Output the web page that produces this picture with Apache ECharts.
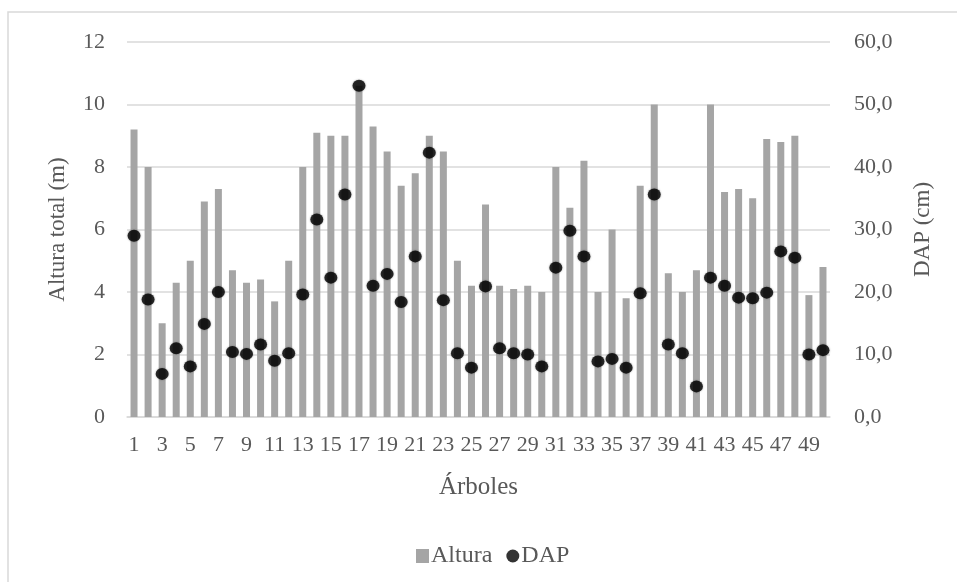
<!DOCTYPE html>
<html>
<head>
<meta charset="utf-8">
<script src="https://cdn.jsdelivr.net/npm/echarts@6/dist/echarts.min.js"></script>
<style>
  html, body { margin: 0; padding: 0; background: #fff; }
  #chart { width: 957px; height: 582px; }
</style>
</head>
<body>
<div id="chart"></div>
<script>
// Tree numbers 1..50
const arboles = ['1','2','3','4','5','6','7','8','9','10','11','12','13','14','15','16','17','18','19','20',
  '21','22','23','24','25','26','27','28','29','30','31','32','33','34','35','36','37','38','39','40',
  '41','42','43','44','45','46','47','48','49','50'];

// Total height (m)
const altura = [9.2, 8.0, 3.0, 4.3, 5.0, 6.9, 7.3, 4.7, 4.3, 4.4,
  3.7, 5.0, 8.0, 9.1, 9.0, 9.0, 10.6, 9.3, 8.5, 7.4,
  7.8, 9.0, 8.5, 5.0, 4.2, 6.8, 4.2, 4.1, 4.2, 4.0,
  8.0, 6.7, 8.2, 4.0, 6.0, 3.8, 7.4, 10.0, 4.6, 4.0,
  4.7, 10.0, 7.2, 7.3, 7.0, 8.9, 8.8, 9.0, 3.9, 4.8];

// Diameter at breast height (cm)
const dap = [29.0, 18.8, 6.9, 11.0, 8.1, 14.9, 20.0, 10.4, 10.1, 11.6,
  9.0, 10.2, 19.6, 31.6, 22.3, 35.6, 53.0, 21.0, 22.9, 18.4,
  25.7, 42.3, 18.7, 10.2, 7.9, 20.9, 11.0, 10.2, 10.0, 8.1,
  23.9, 29.8, 25.7, 8.9, 9.3, 7.9, 19.8, 35.6, 11.6, 10.2,
  4.9, 22.3, 21.0, 19.1, 19.0, 19.9, 26.5, 25.5, 10.0, 10.7];

const textColor = '#595959';
const gridColor = '#D9D9D9';
const fontFamily = '"Liberation Serif", "Times New Roman", serif';

const chart = echarts.init(document.getElementById('chart'), null, { renderer: 'canvas' });

chart.setOption({
  backgroundColor: '#fff',
  animation: false,
  textStyle: { fontFamily: fontFamily, color: textColor },
  graphic: [{
    type: 'rect',
    shape: { x: 8, y: 12, width: 960, height: 580 },
    style: { fill: 'none', stroke: gridColor, lineWidth: 1.5 },
    silent: true
  }],
  grid: { left: 127, right: 127, top: 42, bottom: 165, containLabel: false },
  legend: {
    data: [
      { name: 'Altura', icon: 'rect' },
      { name: 'DAP', icon: 'circle' }
    ],
    left: 411,
    top: 539,
    itemGap: 14,
    itemWidth: 13,
    itemHeight: 14,
    textStyle: { fontFamily: fontFamily, fontSize: 24, color: textColor, padding: [0, 0, 0, -3] }
  },
  xAxis: {
    type: 'category',
    data: arboles,
    boundaryGap: true,
    name: 'Árboles',
    nameLocation: 'middle',
    nameGap: 58,
    nameTextStyle: { fontFamily: fontFamily, fontSize: 25, color: textColor },
    axisLine: { show: true, lineStyle: { color: gridColor, width: 1.5 } },
    axisTick: { show: false },
    axisLabel: { interval: 1, margin: 17, fontFamily: fontFamily, fontSize: 22, color: textColor }
  },
  yAxis: [{
    type: 'value',
    min: 0, max: 12, interval: 2,
    name: 'Altura total (m)',
    nameLocation: 'middle',
    nameGap: 58,
    nameTextStyle: { fontFamily: fontFamily, fontSize: 23, color: textColor },
    axisLine: { show: false },
    axisTick: { show: false },
    axisLabel: { margin: 22, fontFamily: fontFamily, fontSize: 22, color: textColor },
    splitLine: { show: true, lineStyle: { color: gridColor, width: 1.5 } }
  }, {
    type: 'value',
    min: 0, max: 60, interval: 10,
    name: 'DAP (cm)',
    nameLocation: 'middle',
    nameGap: 81,
    nameRotate: 90,
    nameTextStyle: { fontFamily: fontFamily, fontSize: 23, color: textColor },
    axisLine: { show: false },
    axisTick: { show: false },
    axisLabel: {
      margin: 24, fontFamily: fontFamily, fontSize: 22, color: textColor,
      formatter: v => v.toFixed(1).replace('.', ',')
    },
    splitLine: { show: false }
  }],
  series: [{
    name: 'Altura',
    type: 'bar',
    data: altura,
    yAxisIndex: 0,
    barWidth: 7,
    itemStyle: { color: '#A5A5A5' }
  }, {
    name: 'DAP',
    type: 'scatter',
    data: dap,
    yAxisIndex: 1,
    symbol: 'circle',
    symbolSize: [13, 12],
    itemStyle: { color: '#000', shadowColor: 'rgba(0,0,0,0.45)', shadowBlur: 2 }
  }]
});
</script>
</body>
</html>
